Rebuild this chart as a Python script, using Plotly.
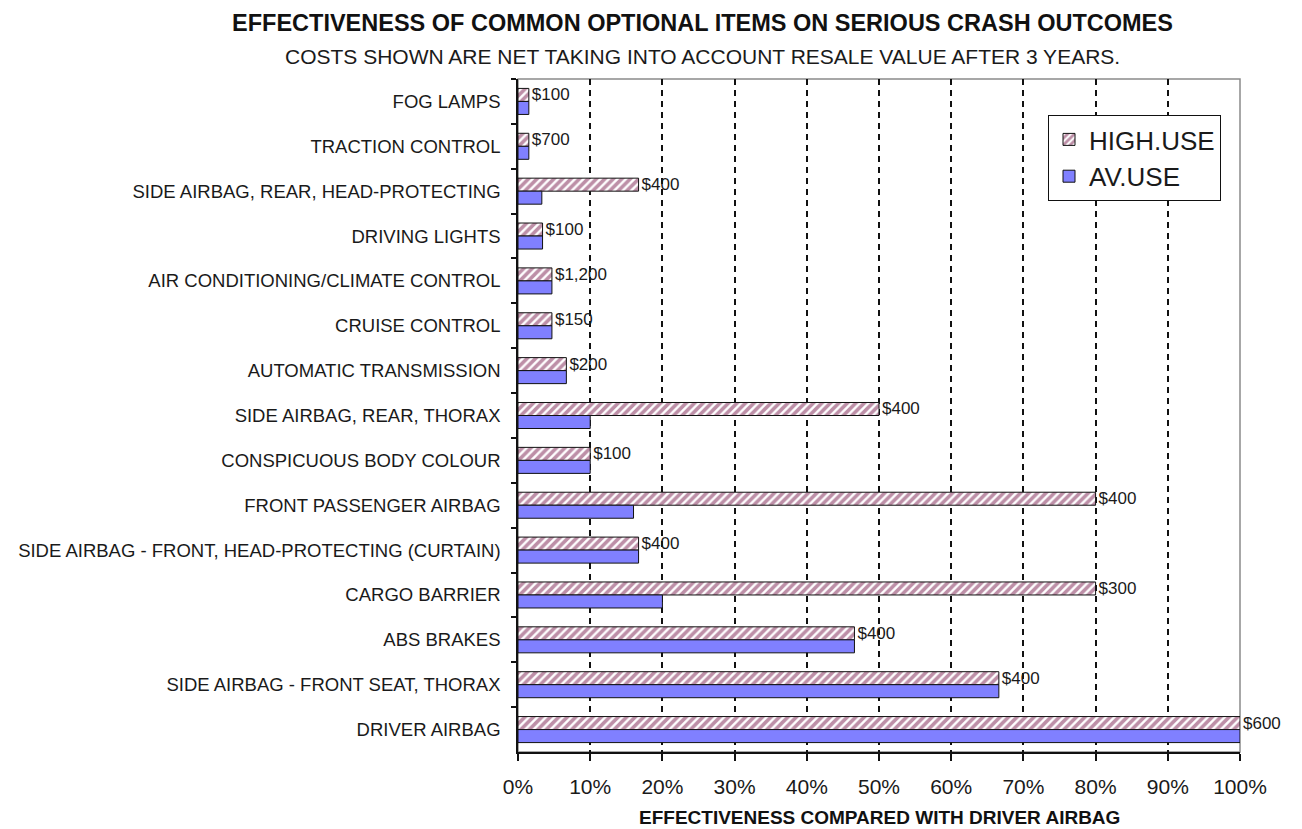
import plotly.graph_objects as go

categories = [
    "FOG LAMPS",
    "TRACTION CONTROL",
    "SIDE AIRBAG, REAR, HEAD-PROTECTING",
    "DRIVING LIGHTS",
    "AIR CONDITIONING/CLIMATE CONTROL",
    "CRUISE CONTROL",
    "AUTOMATIC TRANSMISSION",
    "SIDE AIRBAG, REAR, THORAX",
    "CONSPICUOUS BODY COLOUR",
    "FRONT PASSENGER AIRBAG",
    "SIDE AIRBAG - FRONT, HEAD-PROTECTING (CURTAIN)",
    "CARGO BARRIER",
    "ABS BRAKES",
    "SIDE AIRBAG - FRONT SEAT, THORAX",
    "DRIVER AIRBAG",
]
high_use = [1.5, 1.5, 16.7, 3.4, 4.7, 4.7, 6.7, 50.0, 10.0, 80.0, 16.7, 80.0, 46.6, 66.6, 100.0]
av_use = [1.5, 1.5, 3.3, 3.4, 4.7, 4.7, 6.7, 10.0, 10.0, 16.0, 16.7, 20.0, 46.6, 66.6, 100.0]
costs = ["$100", "$700", "$400", "$100", "$1,200", "$150", "$200", "$400", "$100",
         "$400", "$400", "$300", "$400", "$400", "$600"]
x_ticks = list(range(0, 101, 10))
x_tick_labels = [f"{v}%" for v in x_ticks]

FONT = "Liberation Sans, Arial, sans-serif"
TXT = "#1a1a1a"

fig = go.Figure()
fig.add_trace(go.Bar(
    y=categories, x=high_use, orientation="h", name="HIGH.USE",
    marker=dict(color="white", line=dict(color="#111111", width=1),
                pattern=dict(shape="/", fgcolor="#7b1f50", bgcolor="white",
                             size=6, solidity=0.6)),
    text=costs, textposition="outside", cliponaxis=False, constraintext="none",
    textfont=dict(family=FONT, size=17, color=TXT),
))
fig.add_trace(go.Bar(
    y=categories, x=av_use, orientation="h", name="AV.USE",
    marker=dict(color="#8080FF", line=dict(color="#111111", width=1)),
))

L, R, T, B = 518, 62, 79, 77
W, H = 1302, 829
plot_h = H - T - B
plot_w = W - L - R

def py(pix):
    return (H - B - pix) / plot_h

def px(pix):
    return (pix - L) / plot_w

fig.update_layout(
    width=W, height=H,
    margin=dict(l=L, r=R, t=T, b=B),
    paper_bgcolor="white", plot_bgcolor="white",
    barmode="group", bargap=0.42, bargroupgap=0,
    font=dict(family=FONT, color=TXT),
    showlegend=True,
    legend=dict(
        x=px(1048), y=py(115), xanchor="left", yanchor="top",
        bgcolor="white", bordercolor="#111111", borderwidth=1,
        font=dict(family=FONT, size=26, color=TXT),
        traceorder="normal", tracegroupgap=0,
    ),
    xaxis=dict(
        range=[0, 100], tickvals=x_ticks, ticktext=x_tick_labels,
        showgrid=True, gridcolor="#111111", gridwidth=1.5, griddash="6px,5px",
        showline=True, linecolor="#111111", linewidth=1.5,
        ticks="outside", ticklen=7, tickcolor="#111111", tickwidth=1.5,
        tickfont=dict(family=FONT, size=21, color=TXT),
        ticklabelstandoff=8, zeroline=False, fixedrange=True,
    ),
    yaxis=dict(
        categoryorder="array", categoryarray=categories, autorange="reversed",
        showline=True, linecolor="#111111", linewidth=1.5,
        ticks="outside", ticklen=5, tickcolor="#111111", tickwidth=1.5,
        tickson="boundaries",
        tickfont=dict(family=FONT, size=18.5, color=TXT),
        ticklabelstandoff=12, showgrid=False, fixedrange=True,
    ),
    shapes=[
        dict(type="rect", xref="paper", yref="paper", x0=0, x1=1, y0=0, y1=1,
             line=dict(color="#8a8a8a", width=1.5), fillcolor="rgba(0,0,0,0)",
             layer="between"),
    ],
    annotations=[
        dict(text="<b>EFFECTIVENESS OF COMMON OPTIONAL ITEMS ON SERIOUS CRASH OUTCOMES</b>",
             xref="paper", yref="paper", x=px(702), y=py(23), xanchor="center",
             yanchor="middle", showarrow=False,
             font=dict(family=FONT, size=23.5, color="#111111")),
        dict(text="COSTS SHOWN ARE NET TAKING INTO ACCOUNT RESALE VALUE AFTER 3 YEARS.",
             xref="paper", yref="paper", x=px(702), y=py(57), xanchor="center",
             yanchor="middle", showarrow=False,
             font=dict(family=FONT, size=21, color=TXT)),
        dict(text="<b>EFFECTIVENESS COMPARED WITH DRIVER AIRBAG</b>",
             xref="paper", yref="paper", x=0.5, y=py(817), xanchor="center",
             yanchor="middle", showarrow=False,
             font=dict(family=FONT, size=19, color="#111111")),
    ],
)

fig.write_html("out.html")
